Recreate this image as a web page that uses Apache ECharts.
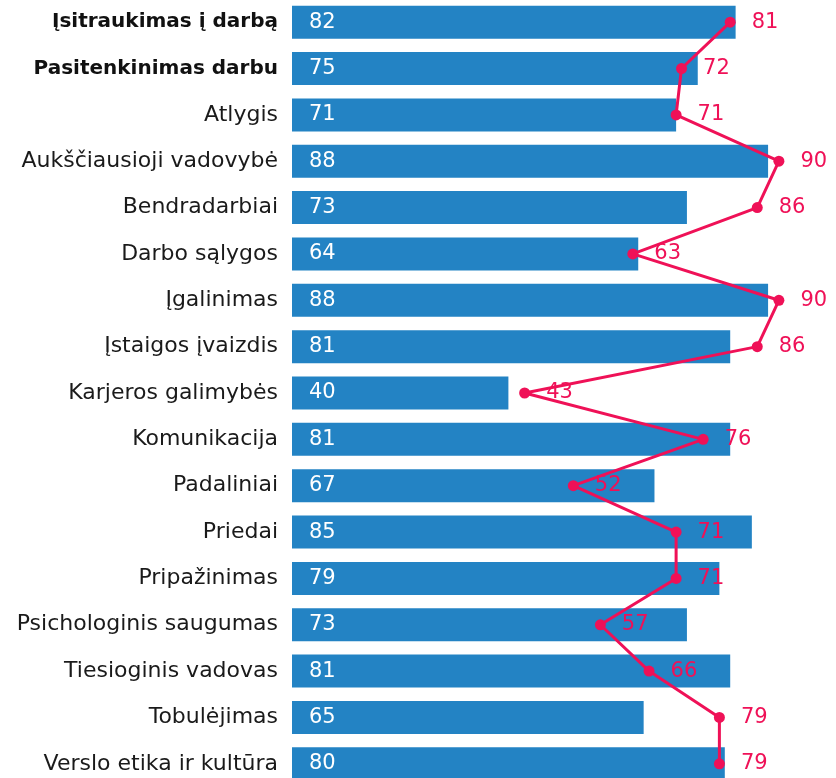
<!DOCTYPE html>
<html>
<head>
<meta charset="utf-8">
<script src="https://cdn.jsdelivr.net/npm/echarts@6/dist/echarts.min.js"></script>
<style>
  html, body { margin: 0; padding: 0; background: #fff; }
  #myChart { width: 836px; height: 778px; }
</style>
</head>
<body>
<div id="myChart"></div>
<script>
// temos (iš viršaus į apačią)
var categories = [
  'Įsitraukimas į darbą', 'Pasitenkinimas darbu', 'Atlygis', 'Aukščiausioji vadovybė',
  'Bendradarbiai', 'Darbo sąlygos', 'Įgalinimas', 'Įstaigos įvaizdis',
  'Karjeros galimybės', 'Komunikacija', 'Padaliniai', 'Priedai',
  'Pripažinimas', 'Psichologinis saugumas', 'Tiesioginis vadovas', 'Tobulėjimas',
  'Verslo etika ir kultūra'
]
var barValues = [82, 75, 71, 88, 73, 64, 88, 81, 40, 81, 67, 85, 79, 73, 81, 65, 80]
var lineValues = [81, 72, 71, 90, 86, 63, 90, 86, 43, 76, 52, 71, 71, 57, 66, 79, 79]
var boldRows = ['Įsitraukimas į darbą', 'Pasitenkinimas darbu']

var font = 'DejaVu Sans'
var chart = echarts.init(document.getElementById('myChart'))
chart.setOption({
  animation: false,
  grid: { left: 292, right: 3, top: -1, height: 788, outerBoundsMode: 'none', containLabel: false },
  xAxis: {
    type: 'value',
    min: 0,
    max: 100,
    show: false
  },
  yAxis: {
    type: 'category',
    data: categories,
    inverse: true,
    axisLine: { show: false },
    axisTick: { show: false },
    splitLine: { show: false },
    axisLabel: {
      margin: 14,
      fontFamily: font,
      fontSize: 22,
      color: '#1a1a1a',
      formatter: function (v) {
        return boldRows.indexOf(v) >= 0 ? '{b|' + v + '}' : v
      },
      rich: {
        b: { fontFamily: font, fontSize: 20, fontWeight: 'bold', color: '#111' }
      }
    }
  },
  series: [
    {
      type: 'bar',
      data: barValues,
      barWidth: 33,
      itemStyle: { color: '#2383c4' },
      label: {
        show: true,
        position: 'insideLeft',
        distance: 17,
        color: '#fff',
        fontFamily: font,
        fontSize: 21
      }
    },
    {
      type: 'line',
      data: lineValues,
      symbol: 'circle',
      symbolSize: 11,
      itemStyle: { color: '#ef1157' },
      lineStyle: { color: '#ef1157', width: 3 },
      label: {
        show: true,
        position: 'right',
        distance: 16,
        color: '#ef1157',
        fontFamily: font,
        fontSize: 21
      }
    }
  ]
})
</script>
</body>
</html>
